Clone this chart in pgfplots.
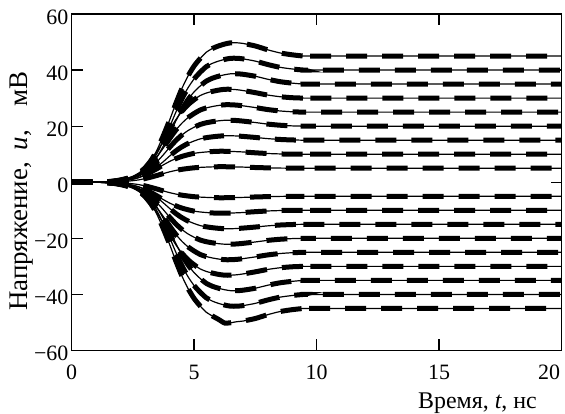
\documentclass[border=0pt]{standalone}
\usepackage{pgfplots}
\usepackage{pgfplotstable}
\pgfplotsset{compat=1.18}
\usepackage{fontspec}
\setmainfont{Liberation Serif}
\pgfplotstableread{
t    p45   p40   p35   p30   p25   p20   p15   p10   p5    n5     n10    n15    n20    n25    n30    n35    n40    n45
0    0     0     0     0     0     0     0     0     0     0      0      0      0      0      0      0      0      0
1    0     0     0     0     0     0     0     0.01  0.01  -0.01  -0.01  0      0      0      0      0      0      0
1.25 0     0     0     0.09  0.08  0.06  0.05  0.08  0.04  -0.04  -0.08  -0.05  -0.06  -0.08  -0.09  0      0      0
1.5  0.14  0.12  0.11  0.24  0.2   0.16  0.12  0.15  0.08  -0.08  -0.15  -0.12  -0.16  -0.2   -0.24  -0.11  -0.12  -0.14
1.75 0.36  0.32  0.28  0.45  0.38  0.3   0.23  0.28  0.14  -0.14  -0.28  -0.23  -0.3   -0.38  -0.45  -0.28  -0.32  -0.36
2    0.68  0.6   0.53  0.84  0.7   0.56  0.42  0.45  0.23  -0.23  -0.45  -0.42  -0.56  -0.7   -0.84  -0.53  -0.6   -0.68
2.25 1.26  1.12  0.98  1.35  1.13  0.9   0.68  0.7   0.35  -0.35  -0.7   -0.68  -0.9   -1.13  -1.35  -0.98  -1.12  -1.26
2.5  2.03  1.8   1.58  2.1   1.75  1.4   1.05  1.1   0.55  -0.55  -1.1   -1.05  -1.4   -1.75  -2.1   -1.58  -1.8   -2.03
2.75 3.15  2.8   2.45  3.3   2.75  2.2   1.65  1.7   0.85  -0.85  -1.7   -1.65  -2.2   -2.75  -3.3   -2.45  -2.8   -3.15
3    4.95  4.4   3.85  5.1   4.25  3.4   2.55  2.6   1.3   -1.3   -2.6   -2.55  -3.4   -4.25  -5.1   -3.85  -4.4   -4.95
3.25 7.65  6.8   5.95  7.8   6.5   5.2   3.9   3.7   1.85  -1.85  -3.7   -3.9   -5.2   -6.5   -7.8   -5.95  -6.8   -7.65
3.5  11.7  10.4  9.1   11.1  9.25  7.4   5.55  4.9   2.45  -2.45  -4.9   -5.55  -7.4   -9.25  -11.1  -9.1   -10.4  -11.7
3.75 16.65 14.8  12.95 14.7  12.25 9.8   7.35  6.2   3.1   -3.1   -6.2   -7.35  -9.8   -12.25 -14.7  -12.95 -14.8  -16.65
4    22.05 19.6  17.15 18.6  15.5  12.4  9.3   7.4   3.7   -3.7   -7.4   -9.3   -12.4  -15.5  -18.6  -17.15 -19.6  -22.05
4.25 27.9  24.8  21.7  22.2  18.5  14.8  11.1  8.4   4.2   -4.2   -8.4   -11.1  -14.8  -18.5  -22.2  -21.7  -24.8  -27.9
4.5  33.3  29.6  25.9  25.2  21    16.8  12.6  9.2   4.6   -4.6   -9.2   -12.6  -16.8  -21    -25.2  -25.9  -29.6  -33.3
4.75 37.8  33.6  29.4  27.6  23    18.4  13.8  9.8   4.9   -4.9   -9.8   -13.8  -18.4  -23    -27.6  -29.4  -33.6  -37.8
5    41.4  36.8  32.2  29.4  24.5  19.6  14.7  10.3  5.15  -5.15  -10.3  -14.7  -19.6  -24.5  -29.4  -32.2  -36.8  -41.4
5.25 44.1  39.2  34.3  30.9  25.75 20.6  15.45 10.6  5.3   -5.3   -10.6  -15.45 -20.6  -25.75 -30.9  -34.3  -39.2  -44.1
5.5  46.35 41.2  36.05 31.8  26.5  21.2  15.9  10.8  5.4   -5.4   -10.8  -15.9  -21.2  -26.5  -31.8  -36.05 -41.2  -46.35
5.75 47.7  42.4  37.1  32.4  27    21.6  16.2  10.95 5.48  -5.48  -10.95 -16.2  -21.6  -27    -32.4  -37.1  -42.4  -47.7
6    48.6  43.2  37.8  32.85 27.38 21.9  16.43 11.05 5.53  -5.53  -11.05 -16.43 -21.9  -27.38 -32.85 -37.8  -43.2  -48.9
6.25 49.28 43.8  38.33 33.15 27.63 22.1  16.58 11.05 5.53  -5.53  -11.05 -16.58 -22.1  -27.63 -33.15 -38.33 -43.8  -50.2
6.5  49.73 44.2  38.68 33.15 27.63 22.1  16.58 11    5.5   -5.5   -11    -16.58 -22.1  -27.63 -33.15 -38.68 -44.2  -50.1
6.75 49.73 44.2  38.68 33    27.5  22    16.5  10.9  5.45  -5.45  -10.9  -16.5  -22    -27.5  -33    -38.68 -44.2  -49.73
7    49.5  44    38.5  32.7  27.25 21.8  16.35 10.8  5.4   -5.4   -10.8  -16.35 -21.8  -27.25 -32.7  -38.5  -44    -49.5
7.5  48.6  43.2  37.8  31.95 26.63 21.3  15.98 10.5  5.25  -5.25  -10.5  -15.98 -21.3  -26.63 -31.95 -37.8  -43.2  -48.6
8    47.25 42    36.75 31.11 25.93 20.74 15.56 10.25 5.13  -5.13  -10.25 -15.56 -20.74 -25.93 -31.11 -36.75 -42    -47.25
8.5  46.13 41    35.88 30.51 25.43 20.34 15.26 10.1  5.05  -5.05  -10.1  -15.26 -20.34 -25.43 -30.51 -35.88 -41    -46.13
9    45.45 40.4  35.35 30.15 25.13 20.1  15.08 10    5     -5     -10    -15.08 -20.1  -25.13 -30.15 -35.35 -40.4  -45.45
9.5  45    40    35    30    25    20    15    10    5     -5     -10    -15    -20    -25    -30    -35    -40    -45
10   45    40    35    30    25    20    15    10    5     -5     -10    -15    -20    -25    -30    -35    -40    -45
20   45    40    35    30    25    20    15    10    5     -5     -10    -15    -20    -25    -30    -35    -40    -45
}\datatable
\begin{document}
\begin{tikzpicture}
\begin{axis}[name=ax,
  scale only axis, width=490bp, height=336.5bp,
  xmin=0, xmax=20, ymin=-60, ymax=60,
  xtick={0,5,10,15,20}, ytick={-60,-40,-20,0,20,40,60},
  yticklabels={−60,−40,−20,0,20,40,60},
  xticklabels={0,5,10,15,\makebox[0pt][r]{20\hspace{1.5bp}}},
  tick align=inside, major tick length=11bp,
  every tick/.style={line width=1.2bp, black},
  axis line style={line width=1.5bp},
  tick label style={font=\fontsize{22}{26}\selectfont},
  xticklabel style={anchor=base, yshift=-29bp},
  yticklabel style={anchor=east, inner sep=0pt, xshift=-3bp, yshift=-3bp},
  xlabel={Время, \textit{t}, нс},
  ylabel={Напряжение,\hspace{0.45em}\textit{u},\hspace{0.85em}мВ},
  xlabel style={font=\fontsize{24}{28}\selectfont, at={(axis description cs:0.8286,-0.171)}, anchor=base},
  ylabel style={font=\fontsize{27}{31}\selectfont, at={(axis description cs:-0.102,0.4725)}, anchor=center},
  clip=true,
]
\pgfplotsinvokeforeach{p45,p40,p35,p30,p25,p20,p15,p10,p5,n5,n10,n15,n20,n25,n30,n35,n40,n45}{
  \addplot[black, line width=5bp, dash pattern=on 21bp off 15bp, smooth, tension=0.4] table[x=t, y=#1] {\datatable};
  \addplot[black, line width=1.2bp, smooth, tension=0.4] table[x=t, y=#1] {\datatable};
}
\end{axis}
\pgfresetboundingbox
\path ([shift={(-71.5bp,-63.5bp)}]ax.south west) rectangle ([shift={(3.5bp,14bp)}]ax.north east);
\end{tikzpicture}
\end{document}
